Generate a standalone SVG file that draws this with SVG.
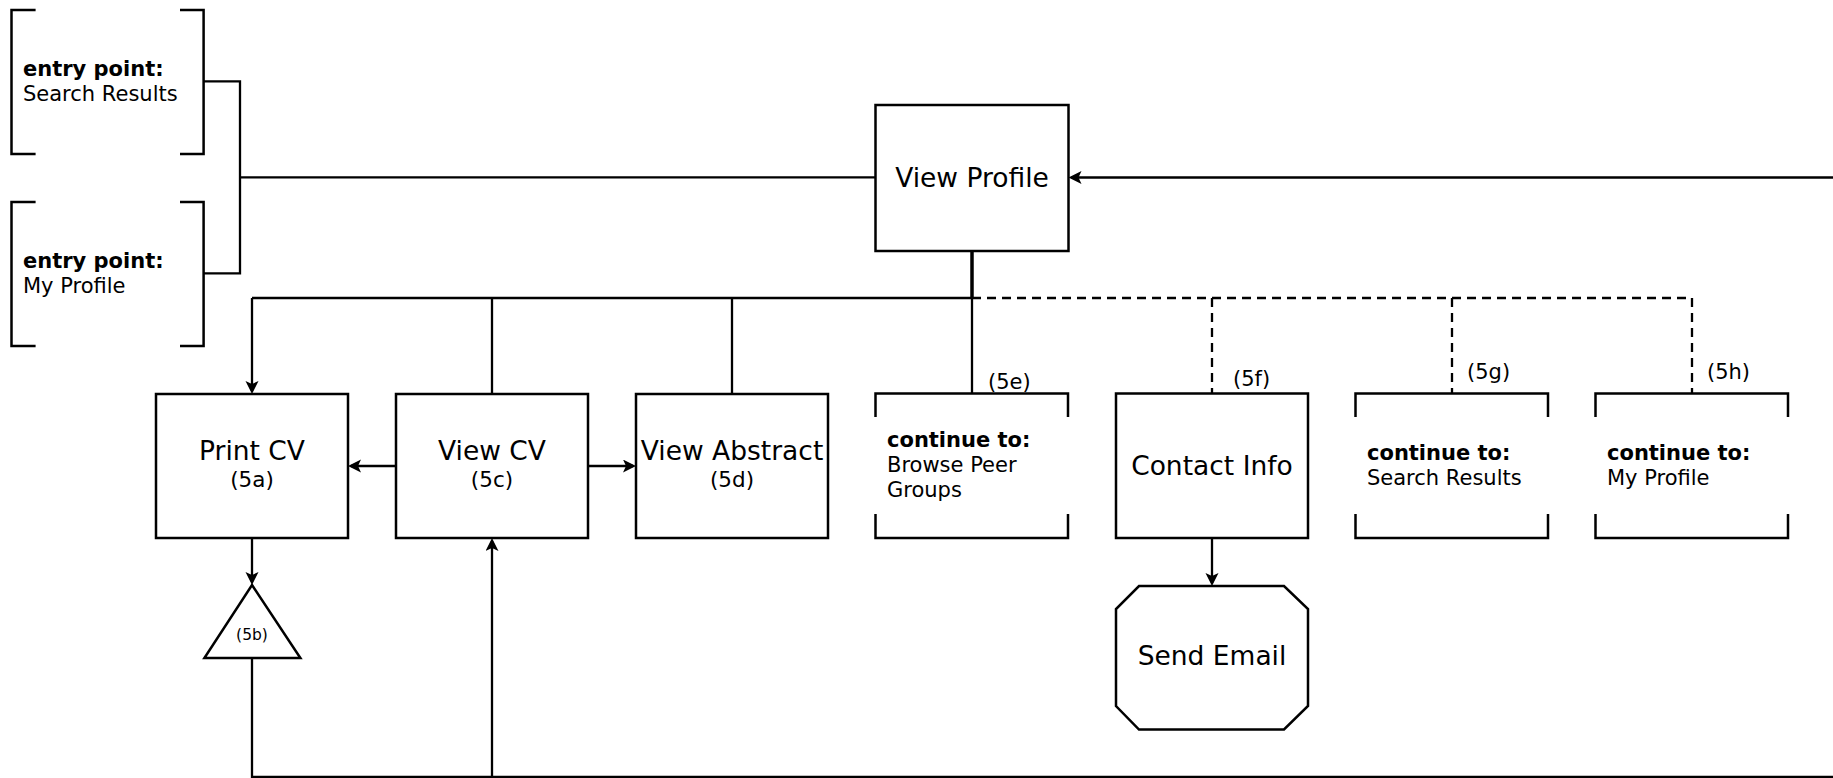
<svg xmlns="http://www.w3.org/2000/svg" width="1833" height="778" viewBox="0 0 1833 778">
<style>
.box{fill:#fff;stroke:#000;stroke-width:2.5}
.br{fill:none;stroke:#000;stroke-width:2.5}
.c{fill:none;stroke:#000;stroke-width:2.3}
.d{fill:none;stroke:#000;stroke-width:2.3;stroke-dasharray:9,6}
text{font-family:"DejaVu Sans","Liberation Sans",sans-serif;fill:#000}
.big{font-size:26.5px;text-anchor:middle}
.mid{font-size:21.5px;text-anchor:middle}
.sm{font-size:21px}
.b{font-weight:bold}
.tiny{font-size:15.5px;text-anchor:middle}
</style>
<defs>
<marker id="arr" markerUnits="userSpaceOnUse" markerWidth="14" markerHeight="14" refX="10" refY="6.5" orient="auto">
<path d="M0,0 L13,6.5 L0,13 L3,6.5 z" fill="#000"/>
</marker>
</defs>
<rect width="1833" height="778" fill="#fff"/>
<g id="connectors">
<path class="c" d="M203.6,81.3 H240 V273.3 H203.6"/>
<path class="c" d="M240,177.3 H875.5"/>
<path class="c" d="M1833,177.5 H1071.5" marker-end="url(#arr)"/>
<path d="M972,251 V298" fill="none" stroke="#000" stroke-width="3.5"/>
<path class="c" d="M252,298 H972"/>
<path class="c" d="M252,298 V391" marker-end="url(#arr)"/>
<path class="c" d="M492,298 V394"/>
<path class="c" d="M732,298 V394"/>
<path class="c" d="M972,298 V393.5"/>
<path class="d" d="M972,298 H1692"/>
<path class="d" d="M1212,298 V393"/>
<path class="d" d="M1452,298 V393"/>
<path class="d" d="M1692,298 V393"/>
<path class="c" d="M396,466 H351" marker-end="url(#arr)"/>
<path class="c" d="M588,466 H633" marker-end="url(#arr)"/>
<path class="c" d="M252,538 V582" marker-end="url(#arr)"/>
<path class="c" d="M252,658 V777 H1833"/>
<path class="c" d="M492,777 V541" marker-end="url(#arr)"/>
<path class="c" d="M1212,538 V583" marker-end="url(#arr)"/>
</g>
<g id="entry-search">
<path class="br" d="M35.6,10 H11.5 V154 H35.6 M180,10 H203.6 V154 H180"/>
<text class="sm b" x="23" y="76">entry point:</text>
<text class="sm" x="23" y="101">Search Results</text>
</g>
<g id="entry-myprofile">
<path class="br" d="M35.6,202 H11.5 V346 H35.6 M180,202 H203.6 V346 H180"/>
<text class="sm b" x="23" y="268">entry point:</text>
<text class="sm" x="23" y="293">My Profile</text>
</g>
<g id="view-profile">
<rect class="box" x="875.5" y="105" width="193" height="146"/>
<text class="big" x="972" y="187">View Profile</text>
</g>
<g id="print-cv">
<rect class="box" x="156" y="394" width="192" height="144"/>
<text class="big" x="252" y="460">Print CV</text>
<text class="mid" x="252" y="487">(5a)</text>
</g>
<g id="print-5b">
<path class="box" d="M252,585 L300.4,658 L204.4,658 Z"/>
<text class="tiny" x="252" y="640">(5b)</text>
</g>
<g id="view-cv">
<rect class="box" x="396" y="394" width="192" height="144"/>
<text class="big" x="492" y="460">View CV</text>
<text class="mid" x="492" y="487">(5c)</text>
</g>
<g id="view-abstract">
<rect class="box" x="636" y="394" width="192" height="144"/>
<text class="big" x="732" y="460">View Abstract</text>
<text class="mid" x="732" y="487">(5d)</text>
</g>
<g id="continue-peer">
<path class="br" d="M875.5,417 V393.5 H1068 V417 M875.5,514 V538 H1068 V514"/>
<text class="sm" x="988" y="389">(5e)</text>
<text class="sm b" x="887" y="447">continue to:</text>
<text class="sm" x="887" y="472">Browse Peer</text>
<text class="sm" x="887" y="497">Groups</text>
</g>
<g id="contact-info">
<rect class="box" x="1116" y="393.5" width="192" height="144.5"/>
<text class="sm" x="1233" y="386">(5f)</text>
<text class="big" x="1212" y="475">Contact Info</text>
</g>
<g id="send-email">
<path class="box" d="M1139,586 H1284 L1308,609 V706 L1284,729.5 H1139 L1116,706 V609 Z"/>
<text class="big" x="1212" y="665">Send Email</text>
</g>
<g id="continue-search">
<path class="br" d="M1355.5,417 V393.5 H1548 V417 M1355.5,514 V538 H1548 V514"/>
<text class="sm" x="1467" y="379">(5g)</text>
<text class="sm b" x="1367" y="460">continue to:</text>
<text class="sm" x="1367" y="485">Search Results</text>
</g>
<g id="continue-myprofile">
<path class="br" d="M1595.5,417 V393.5 H1788 V417 M1595.5,514 V538 H1788 V514"/>
<text class="sm" x="1707" y="379">(5h)</text>
<text class="sm b" x="1607" y="460">continue to:</text>
<text class="sm" x="1607" y="485">My Profile</text>
</g>
</svg>
